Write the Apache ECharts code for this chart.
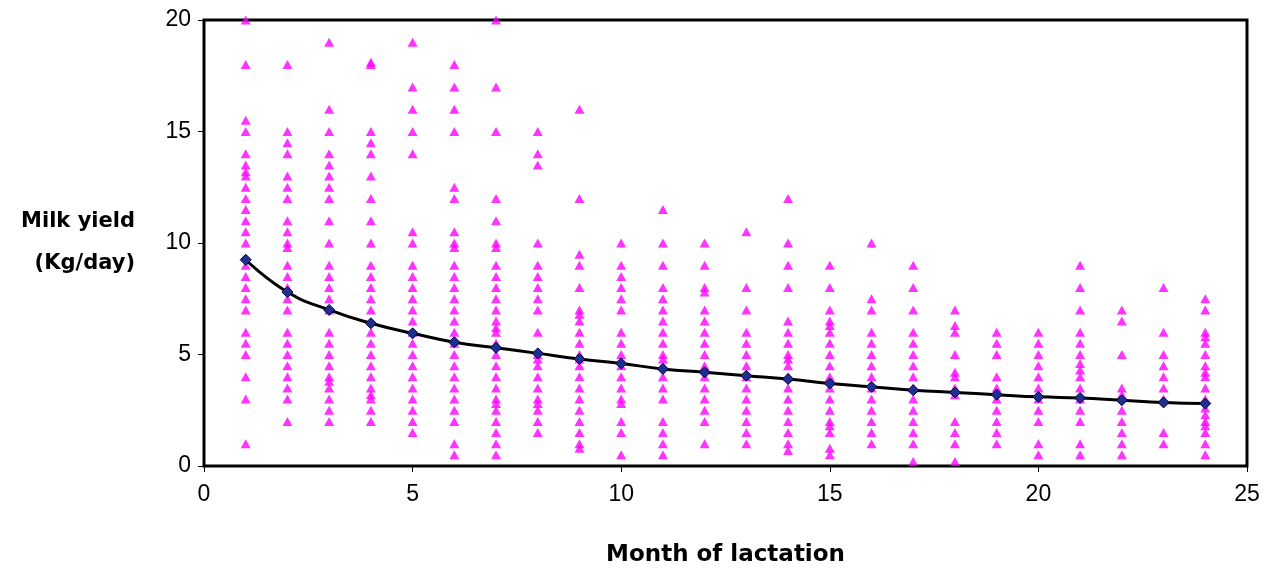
<!DOCTYPE html>
<html><head><meta charset="utf-8">
<script src="https://cdn.jsdelivr.net/npm/echarts@6/dist/echarts.min.js"></script>
<style>html,body{margin:0;padding:0;background:#fff}#c{width:1270px;height:569px}</style>
</head><body><div id="c"></div>
<script>
const months = [1,2,3,4,5,6,7,8,9,10,11,12,13,14,15,16,17,18,19,20,21,22,23,24];
const yields = [
  [20,18,15.5,15,14,13.5,13.2,13,12.5,12,11.5,11,10.5,10,9,8.5,8,7.5,7,6,5.5,5,4,3,1],
  [18,15,14.5,14,13,12.5,12,11,10.5,10,9.8,9,8.5,8,7.5,7,6,5.5,5,4.5,4,3.5,3,2],
  [19,16,15,14,13.5,13,12.5,12,11,10,9,8.5,8,7.5,7,6,5.5,5,4.5,4,3.8,3.5,3,2.5,2],
  [18.1,18,15,14.5,14,13,12,11,10,9,8.5,8,7.5,7,6,5.5,5,4.5,4,3.5,3.2,3,2.5,2],
  [19,17,16,15,14,10.5,10,9,8.5,8,7.5,7,6.5,6,5.5,5,4.5,4,3.5,3,2.5,2,1.5],
  [18,17,16,15,12.5,12,10.5,10,9.8,9,8.5,8,7.5,7,6.5,6,5.5,5,4.5,4,3.5,3,2.5,2,1,0.5],
  [20,17,15,12,11,10,9.8,9,8.5,8,7.5,7,6.5,6.2,6,5.5,5,4.5,4,3.5,3,2.8,2.5,2,1.5,1,0.5],
  [15,14,13.5,10,9,8.5,8,7.5,7,6,5,4.8,4.5,4,3.5,3,2.8,2.5,2,1.5],
  [16,12,9.5,9,8,7,6.8,6.5,6,5.5,5,4.8,4.5,4,3.5,3,2.5,2,1.5,1,0.8],
  [10,9,8.5,8,7.5,7,6,5.5,5,4.5,4,3.5,3,2.8,2,1.5,0.5],
  [11.5,10,9,8,7.5,7,6.5,6,5.5,5,4.8,4.5,4,3.5,3,2,1.5,1,0.5],
  [10,9,8,7.8,7,6.5,6,5.5,5,4.5,4,3.5,3,2.5,2,1],
  [10.5,8,7,6,5.5,5,4.5,4,3.5,3,2.5,2,1.5,1],
  [12,10,9,8,6.5,6,5.5,5,4.8,4.5,4,3.5,3,2.5,2,1.5,1,0.7],
  [9,8,7,6.5,6.3,6,5.5,5,4.5,4,3.5,3,2.5,2,1.8,1.5,0.8,0.5],
  [10,7.5,7,6,5.5,5,4.5,4,3.5,3,2.5,2,1.5,1],
  [9,8,7,6,5.5,5,4.5,4,3.5,3,2.5,2,1.5,1,0.2],
  [7,6.3,6,5,4.2,4,3.5,3.2,2,1.5,1,0.2],
  [6,5.5,5,4,3.5,3,2.5,2,1.5,1],
  [6,5.5,5,4.5,4,3.5,3,2.5,2,1,0.5],
  [9,8,7,6,5.5,5,4.6,4.3,4,3.5,3,2.5,2,1,0.5],
  [7,6.5,5,3.5,3.2,2.5,2,1.5,1,0.5],
  [8,6,5,4.5,4,3.5,3,1.5,1],
  [7.5,7,6,5.8,5.5,5,4.5,4.2,4,3.5,3,2.6,2.3,2,1.8,1.5,1,0.5]
];
const meanYield = [9.25,7.8,7.0,6.4,5.95,5.55,5.3,5.05,4.8,4.6,4.35,4.2,4.05,3.9,3.7,3.55,3.4,3.3,3.2,3.1,3.05,2.95,2.85,2.8];
const xTicks = [0,5,10,15,20,25];
const yTicks = [0,5,10,15,20];

const scatterData = [];
months.forEach((m,i)=>yields[i].forEach(v=>scatterData.push([m,v])));
const lineData = months.map((m,i)=>[m,meanYield[i]]);
const font = 'Liberation Sans, Arial, sans-serif';
const titleFont = 'DejaVu Sans, Liberation Sans, sans-serif';

const chart = echarts.init(document.getElementById('c'));
chart.setOption({
  animation:false,
  backgroundColor:'#fff',
  grid:{left:204,right:23,top:20,bottom:103,containLabel:false,outerBoundsMode:'none',
    show:true,borderColor:'#000',borderWidth:3,backgroundColor:'#fff'},
  xAxis:{type:'value',min:0,max:25,interval:5,
    name:'Month of lactation',nameLocation:'middle',nameGap:78,
    nameTextStyle:{fontFamily:titleFont,fontSize:23,fontWeight:'bold',color:'#000'},
    axisLine:{show:true,lineStyle:{color:'#000',width:2}},
    axisTick:{show:true,inside:false,length:6,lineStyle:{color:'#000'}},
    axisLabel:{fontFamily:font,fontSize:23,color:'#000',margin:17,formatter:v=>xTicks.includes(v)?String(v):''},
    splitLine:{show:false}},
  yAxis:{type:'value',min:0,max:20,interval:5,
    name:'Milk yield\n(Kg/day)',nameLocation:'middle',nameRotate:0,nameGap:69,
    nameTextStyle:{fontFamily:titleFont,fontSize:21,fontWeight:'bold',color:'#000',align:'right',lineHeight:42,padding:[10,0,0,0]},
    axisLine:{show:true,lineStyle:{color:'#000',width:1}},
    axisTick:{show:true,inside:false,length:6,lineStyle:{color:'#000'}},
    axisLabel:{fontFamily:font,fontSize:23,color:'#000',margin:13,formatter:v=>yTicks.includes(v)?String(v):''},
    splitLine:{show:false}},
  series:[
    {type:'scatter',data:scatterData,symbol:'triangle',symbolSize:[10,9],
     itemStyle:{color:'#FF00FF'},z:2},
    {type:'line',data:lineData,smooth:true,symbol:'diamond',symbolSize:11,
     lineStyle:{color:'#000',width:3},
     itemStyle:{color:'#1F2F8F',borderColor:'#000040',borderWidth:1},z:3}
  ]
});
</script></body></html>
